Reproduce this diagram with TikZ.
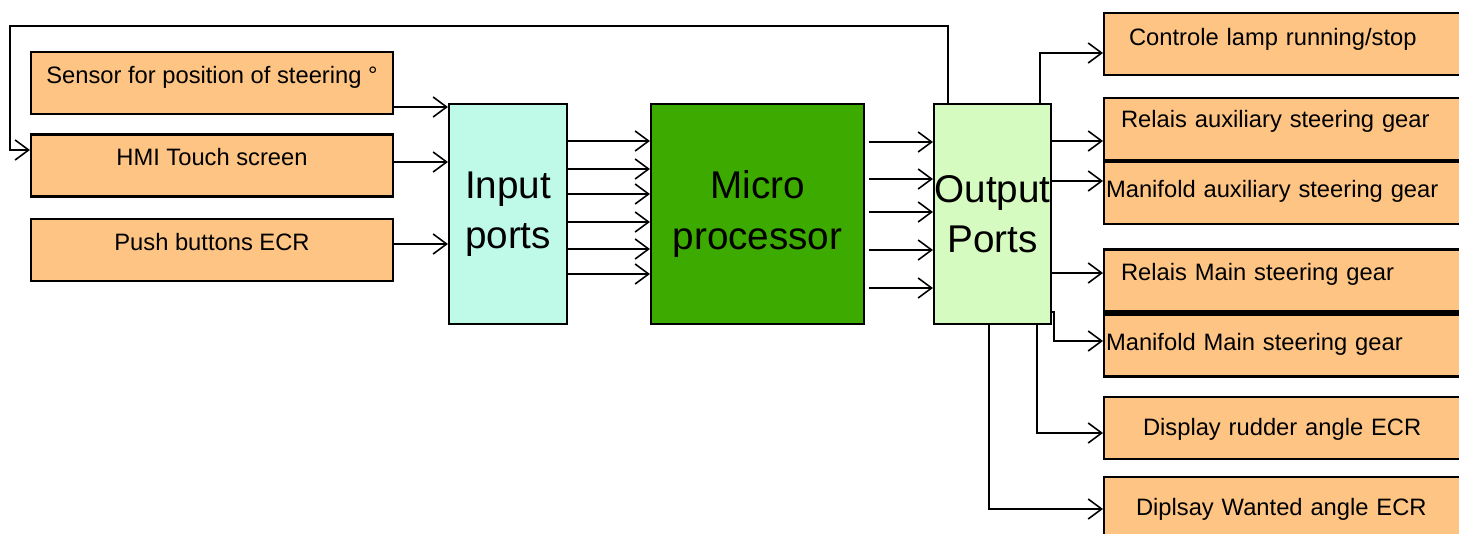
\documentclass[tikz,border=0pt]{standalone}
\usepackage{fontspec}
\setmainfont{Liberation Sans}
\usetikzlibrary{arrows.meta}
\definecolor{boxorange}{HTML}{FDC483}
\definecolor{inaqua}{HTML}{BFFAE9}
\definecolor{cpugreen}{HTML}{3DAA00}
\definecolor{outgreen}{HTML}{D6FBC0}

\begin{document}
\begin{tikzpicture}[
  box/.style={draw, line width=1.2pt, fill=boxorange, minimum height=1.24cm,
              font=\fontsize{13.5}{16}\selectfont, text height=10pt, text depth=10pt},
  lbox/.style={box, minimum width=7.24cm},
  rbox/.style={box, anchor=west, align=left, text width=8cm},
  port/.style={draw, line width=1.2pt, minimum width=2.36cm, minimum height=4.4cm,
               inner xsep=0pt, align=center, font=\fontsize{22}{28.5}\selectfont},
  arr/.style={-{Straight Barb[length=0.27cm, width=0.4cm]}, line width=0.9pt},
]
\useasboundingbox (0,0) rectangle (29.18,-10.68);
\clip (0,0) rectangle (29.18,-10.68);

\node[lbox] (sensor) at (4.24,-1.66) {Sensor for position of steering °};
\node[lbox] (hmi) at (4.24,-3.31) {HMI Touch screen};
\node[lbox] (pushbtn) at (4.24,-5.0) {Push buttons ECR};

\node[port, fill=inaqua] (inports) at (10.16,-4.28) {Input\\ports};
\node[port, fill=cpugreen, minimum width=4.26cm] (micro) at (15.15,-4.28) {Micro\\processor};
\node[port, fill=outgreen, minimum width=2.34cm] (outports) at (19.85,-4.28) {Output\\Ports};

\node[rbox, inner xsep=0.5cm, text depth=7.8pt] (lamp) at (22.06,-0.88) {Controle lamp running/stop};
\node[rbox, inner xsep=0.34cm, text depth=11.2pt] (relaux) at (22.06,-2.58) {Relais auxiliary steering gear};
\node[rbox, inner xsep=0.04cm, text depth=4.4pt] (manaux) at (22.06,-3.86) {Manifold auxiliary steering gear};
\node[rbox, inner xsep=0.34cm] (relmain) at (22.06,-5.61) {Relais Main steering gear};
\node[rbox, inner xsep=0.04cm, text depth=4.7pt] (manmain) at (22.06,-6.91) {Manifold Main steering gear};
\node[rbox, inner xsep=0.78cm, text depth=1pt] (rudder) at (22.06,-8.56) {Display rudder angle ECR};
\node[rbox, inner xsep=0.64cm, text depth=1.5pt] (wanted) at (22.06,-10.16) {Diplsay Wanted angle ECR};

\draw[arr] (sensor.east |- 0,-2.14) -- (inports.west |- 0,-2.14);
\draw[arr] (hmi.east |- 0,-3.24) -- (inports.west |- 0,-3.24);
\draw[arr] (pushbtn.east |- 0,-4.88) -- (inports.west |- 0,-4.88);
\draw[arr] (outports.north -| 18.96,0) |- (0.2,-0.52) |- (hmi.west |- 0,-3.0);

\draw[arr] (inports.east |- 0,-2.82) -- (micro.west |- 0,-2.82);
\draw[arr] (inports.east |- 0,-3.38) -- (micro.west |- 0,-3.38);
\draw[arr] (inports.east |- 0,-3.88) -- (micro.west |- 0,-3.88);
\draw[arr] (inports.east |- 0,-4.44) -- (micro.west |- 0,-4.44);
\draw[arr] (inports.east |- 0,-4.98) -- (micro.west |- 0,-4.98);
\draw[arr] (inports.east |- 0,-5.48) -- (micro.west |- 0,-5.48);

\draw[arr, shorten <=0.08cm] (micro.east |- 0,-2.84) -- (outports.west |- 0,-2.84);
\draw[arr, shorten <=0.08cm] (micro.east |- 0,-3.58) -- (outports.west |- 0,-3.58);
\draw[arr, shorten <=0.08cm] (micro.east |- 0,-4.24) -- (outports.west |- 0,-4.24);
\draw[arr, shorten <=0.08cm] (micro.east |- 0,-5.0) -- (outports.west |- 0,-5.0);
\draw[arr, shorten <=0.08cm] (micro.east |- 0,-5.76) -- (outports.west |- 0,-5.76);

\draw[arr] (outports.north -| 20.8,0) |- (lamp.west |- 0,-1.06);
\draw[arr] (outports.east |- 0,-2.82) -- (relaux.west |- 0,-2.82);
\draw[arr] (outports.east |- 0,-3.62) -- (manaux.west |- 0,-3.62);
\draw[arr] (outports.east |- 0,-5.46) -- (relmain.west |- 0,-5.46);
\draw[arr] (outports.east |- 0,-6.24) -- ++(0.04,0) |- (manmain.west |- 0,-6.82);
\draw[arr] (outports.south -| 20.74,0) |- (rudder.west |- 0,-8.66);
\draw[arr] (outports.south -| 19.78,0) |- (wanted.west |- 0,-10.18);

\end{tikzpicture}
\end{document}
